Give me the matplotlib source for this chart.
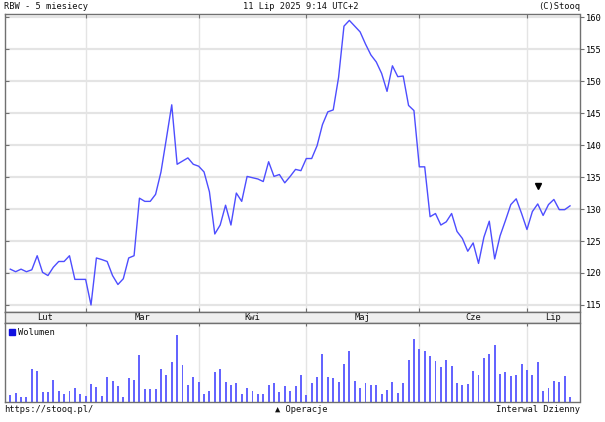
import matplotlib
matplotlib.use("Agg")
import matplotlib.pyplot as plt
import numpy as np

# ---- data ----
price = [120.6, 120.2, 120.6, 120.2, 120.5, 122.7, 120.1, 119.6, 120.9, 121.8, 121.8, 122.7, 119.0, 119.0,
         119.0, 115.0, 122.35, 122.1, 121.8, 119.6, 118.2, 119.1, 122.35, 122.7, 131.7, 131.2, 131.2, 132.3,
         135.8, 141.0, 146.3, 137.0, 137.5, 138.0, 137.0,
         136.7, 135.8, 132.7, 126.1, 127.5, 130.6, 127.5, 132.5, 131.2, 135.1, 134.9, 134.7, 134.3, 137.4,
         135.1, 135.4, 134.1, 135.1, 136.2, 136.0,
         137.9, 137.9, 139.9, 143.2, 145.2, 145.5, 150.6, 158.6, 159.5, 158.6, 157.7, 155.8, 154.1, 153.0,
         151.2, 148.4, 152.4, 150.7, 150.8, 146.2, 145.4,
         136.6, 136.6, 128.8, 129.3, 127.5, 128.0, 129.3, 126.5, 125.4, 123.4, 124.7, 121.5, 125.6, 128.1,
         122.2, 125.8, 128.2, 130.7, 131.6, 129.3,
         126.8, 129.6, 130.8, 129.0, 130.7, 131.5, 129.9, 129.9, 130.5]

volume = [22, 28, 17, 15, 99, 93, 30, 30, 66, 33, 24, 35, 42, 24, 20, 56, 47, 20, 76, 63, 49, 15, 72, 66, 141, 39, 39,
          39, 99, 81, 120, 200, 110, 51, 75, 60, 26, 35, 90, 98, 62, 53, 57, 24, 42, 33, 24, 26, 51, 57, 30, 49, 33, 49,
          80, 22, 57, 76, 143, 76, 71, 60, 114, 152, 64, 44, 57, 51, 51, 26, 37, 60, 29, 57, 125, 189, 159, 154, 137, 122, 105,
          125, 107, 59, 51, 55, 93, 80, 132, 143, 170, 84, 91, 78, 82, 114, 96, 82, 120, 35, 44, 64, 62, 78, 17]

months = ["Lut", "Mar", "Kwi", "Maj", "Cze", "Lip"]
month_start = [14, 35, 55, 76, 96]     # index of first session of each month (Mar..Lip)
price_ticks = [115, 120, 125, 130, 135, 140, 145, 150, 155, 160]
event_idx = 98
event_price = 133.6

# ---- layout ----
W, H = 605, 422
fig = plt.figure(figsize=(W / 100, H / 100), dpi=100)

def rect(x0, y0, x1, y1):
    return [x0 / W, 1 - y1 / H, (x1 - x0) / W, (y1 - y0) / H]

FONT = ["DejaVu Sans Mono", "DejaVu Sans"]
FS = 6.3
LINE = "#4d4dff"
BAR = "#6464ff"
GRID = "#e4e4e4"
SPINE = "#707070"

idx = np.arange(len(price))
xlo, xhi = -0.98, 105.76

ax = fig.add_axes(rect(5, 14, 579.5, 312))
axb = fig.add_axes(rect(5, 312, 579.5, 322.5))
axv = fig.add_axes(rect(5, 322.5, 579.5, 402.3))

# main price chart
for p in price_ticks:
    ax.axhline(p, color=GRID, lw=1.6, zorder=0)
for m in month_start:
    ax.axvline(m, color=GRID, lw=1.0, zorder=0)
ax.plot(idx, price, color=LINE, lw=1.0, zorder=3)
ax.plot(event_idx, event_price, marker="v", color="black", ms=4, ls="none", zorder=4)
ax.set_xlim(xlo, xhi)
ax.set_ylim(113.9, 160.5)
ax.yaxis.tick_right()
ax.set_yticks(price_ticks)
ax.set_yticklabels([str(p) for p in price_ticks], fontsize=FS, family=FONT)
ax.tick_params(axis="y", direction="out", length=3, width=0.8, color=SPINE, pad=1.5)
ax.set_xticks(month_start)
ax.tick_params(axis="x", direction="in", length=3, width=0.8, color=SPINE, top=True, bottom=True,
               labelbottom=False)
sec = ax.secondary_yaxis("left")
sec.set_yticks(price_ticks)
sec.tick_params(direction="in", length=3, width=0.8, color=SPINE, labelleft=False)
sec.spines["left"].set_visible(False)
for s in ax.spines.values():
    s.set_color(SPINE)
    s.set_linewidth(1.0)

# month band
axb.set_facecolor("#efefef")
axb.set_xlim(xlo, xhi)
axb.set_ylim(0, 1)
axb.set_xticks([])
axb.set_yticks([])
edges = [xlo] + month_start + [xhi]
for name, a, b in zip(months, edges[:-1], edges[1:]):
    axb.text((a + b) / 2, 0.45, name, ha="center", va="center", fontsize=FS, family=FONT, color="#111111")
for s in axb.spines.values():
    s.set_color(SPINE)
    s.set_linewidth(1.0)

# volume
for m in month_start:
    axv.axvline(m, color=GRID, lw=1.0, zorder=0)
axv.bar(idx, volume, width=0.36, color=BAR, zorder=2)
axv.set_xlim(xlo, xhi)
axv.set_ylim(0, 238)
axv.set_xticks(month_start)
axv.tick_params(axis="x", direction="in", length=2.5, width=0.8, color=SPINE, top=True, bottom=False,
                labelbottom=False)
axv.set_yticks([])
for s in axv.spines.values():
    s.set_color(SPINE)
    s.set_linewidth(1.0)
axv.plot([0.012], [0.88], marker="s", ms=4, color="#1010e0", transform=axv.transAxes, clip_on=False)
axv.text(0.022, 0.88, "Wolumen", transform=axv.transAxes, ha="left", va="center", fontsize=FS,
         family=FONT, color="#111111")

# header / footer texts
def ftext(x, y, s, ha):
    fig.text(x / W, 1 - y / H, s, ha=ha, va="center", fontsize=FS, family=FONT, color="#111111")

ftext(4, 6.5, "RBW - 5 miesiecy", "left")
ftext(301, 6.5, "11 Lip 2025 9:14 UTC+2", "center")
ftext(580, 6.5, "(C)Stooq", "right")
ftext(4, 409, "https://stooq.pl/", "left")
ftext(301, 409, "▲ Operacje", "center")
ftext(580, 409, "Interwal Dzienny", "right")

fig.savefig("out.png", dpi=100, facecolor="white")
